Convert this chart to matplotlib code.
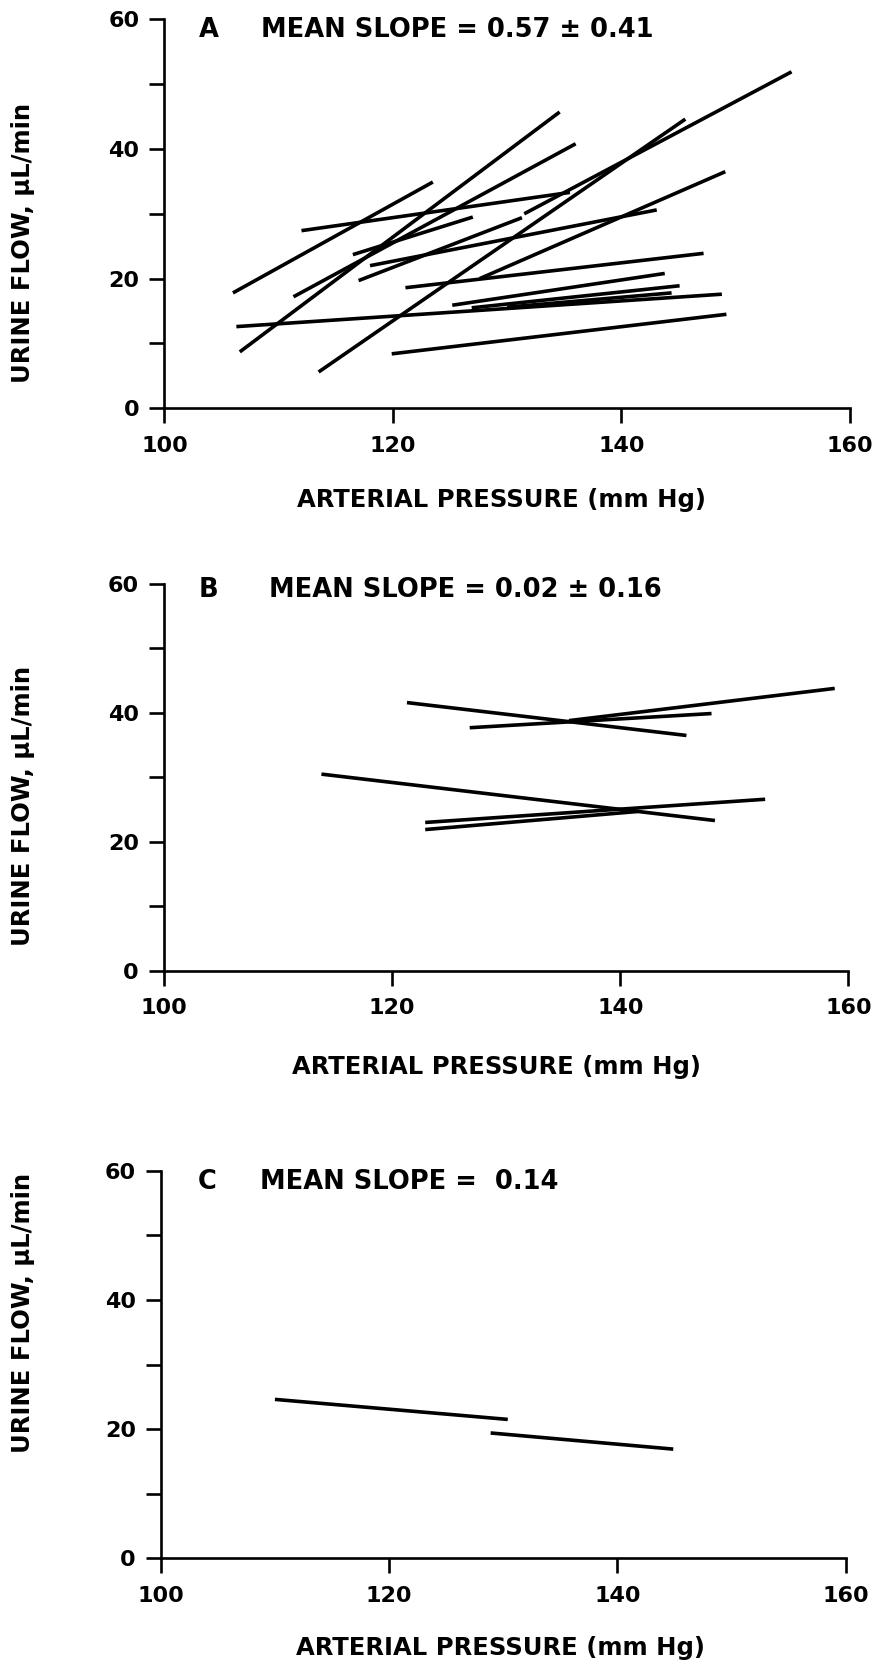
import matplotlib
matplotlib.use('Agg')

import matplotlib.pyplot as plt

# panel A: regression lines, start/end of each (pressure mm Hg, flow uL/min)
a_x0 = [106.0, 106.6, 111.3, 113.5, 117.0, 131.5, 112.0, 116.5, 121.1, 106.3, 119.9, 125.2, 126.9, 130.0, 127.6, 118.0]
a_y0 = [17.8, 8.7, 17.2, 5.6, 19.7, 30.0, 27.4, 23.7, 18.6, 12.6, 8.4, 15.9, 15.5, 15.6, 20.0, 22.0]
a_x1 = [123.5, 134.6, 136.0, 145.6, 131.3, 154.9, 135.5, 127.0, 147.2, 148.8, 149.2, 143.8, 145.1, 144.4, 149.1, 143.1]
a_y1 = [34.9, 45.7, 40.8, 44.6, 29.4, 51.9, 33.3, 29.5, 23.9, 17.6, 14.5, 20.8, 18.9, 17.8, 36.5, 30.6]

# panel B
b_x0 = [121.3, 126.8, 135.5, 113.8, 122.9, 122.9]
b_y0 = [41.6, 37.7, 38.8, 30.5, 23.0, 21.9]
b_x1 = [145.8, 148.0, 158.8, 148.3, 152.7, 141.5]
b_y1 = [36.5, 39.9, 43.8, 23.3, 26.6, 24.7]

# panel C
c_x0 = [110.0, 128.9]
c_y0 = [24.6, 19.4]
c_x1 = [130.4, 144.9]
c_y1 = [21.5, 16.9]

panel_letters = ['A', 'B', 'C']
slope_texts = ['MEAN SLOPE = 0.57 \u00b1 0.41', 'MEAN SLOPE = 0.02 \u00b1 0.16', 'MEAN SLOPE =  0.14']

x_ticks = [100, 120, 140, 160]
y_ticks = [0, 20, 40, 60]
y_minor = [10, 30, 50]

XLABEL = 'ARTERIAL PRESSURE (mm Hg)'
YLABEL = 'URINE FLOW, \u03bcL/min'

plt.rcParams['font.family'] = ['DejaVu Sans']
plt.rcParams['font.weight'] = 'bold'

W, H = 875, 1669
fig = plt.figure(figsize=(W / 100, H / 100), dpi=100)

# axes boxes in pixels: left, right, top(60), bottom(0)
boxes = [(164.4, 849.8, 19.3, 408.3),
         (164.0, 848.4, 584.0, 970.7),
         (160.8, 845.6, 1170.7, 1558.3)]
# label positions in pixels
xlabel_pos = [(501, 500), (496, 1067), (500, 1648)]
ylabel_pos = [(23, 243), (23, 806), (23, 1313)]
letter_x = [103.0, 103.0, 103.2]
slope_x = [108.5, 109.2, 108.7]
title_y = [58.4, 59.0, 58.2]

data = [(a_x0, a_y0, a_x1, a_y1), (b_x0, b_y0, b_x1, b_y1), (c_x0, c_y0, c_x1, c_y1)]

for i in range(3):
    l, r, t, b = boxes[i]
    ax = fig.add_axes([l / W, 1 - b / H, (r - l) / W, (b - t) / H])
    x0, y0, x1, y1 = data[i]
    for k in range(len(x0)):
        ax.plot([x0[k], x1[k]], [y0[k], y1[k]], color='black', lw=2.6, solid_capstyle='butt')

    ax.set_xlim(100, 160)
    ax.set_ylim(0, 60)
    ax.spines['top'].set_visible(False)
    ax.spines['right'].set_visible(False)
    ax.spines['left'].set_linewidth(1.9)
    ax.spines['bottom'].set_linewidth(1.9)
    ax.set_xticks(x_ticks)
    ax.set_yticks(y_ticks)
    ax.set_yticks(y_minor, minor=True)
    ax.tick_params(axis='both', which='both', direction='out', length=11, width=1.9,
                   labelsize=16, pad=9)
    ax.tick_params(axis='y', which='both', pad=7)
    for lab in ax.get_xticklabels() + ax.get_yticklabels():
        lab.set_fontweight('bold')

    ax.text(letter_x[i], title_y[i], panel_letters[i], fontsize=18.5, fontweight='bold',
            va='center', ha='left')
    ax.text(slope_x[i], title_y[i], slope_texts[i], fontsize=18.5, fontweight='bold',
            va='center', ha='left')

    fig.text(xlabel_pos[i][0] / W, 1 - xlabel_pos[i][1] / H, XLABEL, fontsize=17.5,
             fontweight='bold', ha='center', va='center')
    fig.text(ylabel_pos[i][0] / W, 1 - ylabel_pos[i][1] / H, YLABEL, fontsize=17.5,
             fontweight='bold', ha='center', va='center', rotation=90)

plt.savefig('out.png', dpi=100)
